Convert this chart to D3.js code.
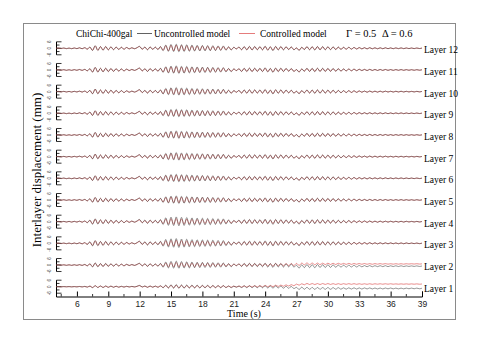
<!DOCTYPE html>
<meta charset="utf-8">
<html>
<head>
<script src="https://d3js.org/d3.v7.min.js"></script>
<style>
  body { margin: 0; background: #fff; }
  text { font-family: "Liberation Serif", "Times New Roman", serif; }
</style>
</head>
<body>
<div id="my_dataviz"></div>
<script>

// sampling of the records: one value every 0.25 s from 4 s to 39 s
var tStart = 4, tStep = 0.25;

// layers 5-12, uncontrolled model (mm)
var upperUnc = [
  0, 0.2, -0.2, 0.3,   -0.3, 0.2, -0.4, 0.3,   -0.3, 0.5, -0.4, 0.6,
  -0.8, 1.2, -2.0, 2.4,   -2.0, 1.6, -1.8, 1.7,   -1.5, 1.4, -1.3, 1.2,
  -1.1, 1.0, -0.9, 0.8,   -0.6, 0.5, -0.4, 0.6,   1.8, -0.8, 1.2, -1.4,
  1.3, -1.0, 1.1, -1.2,   1.6, -2.2, 3.0, -2.8,   3.6, -3.0, 3.8, -3.2,
  3.4, -3.0, 3.3, -2.8,   3.0, -2.6, 2.8, -2.5,   2.7, -2.4, 2.5, -2.3,
  2.4, -2.2, 2.2, -2.0,   2.2, -1.8, 1.4, -1.6,   1.0, -0.6, 1.2, -1.4,
  1.6, -1.5, 1.8, -1.6,   1.7, -1.4, 1.6, -1.5,   2.0, -1.8, 1.5, -2.2,
  1.8, -1.6, 1.7, -1.5,   1.5, -1.2, 1.3, -1.4,   0.4, -2.0, 1.0, -1.2,
  1.6, -1.4, 1.5, -1.6,   1.7, -1.5, 1.6, -1.4,   1.5, -1.3, 1.4, -1.2,
  1.2, -1.1, 1.0, -0.9,   1.0, -0.8, 0.8, -0.7,   0.7, -0.6, 0.6, -0.6,
  0.6, -0.5, 0.5, -0.5,   0.5, -0.4, 0.5, -0.4,   0.4, -0.4, 0.4, -0.3,
  0.4, -0.3, 0.3, -0.3,   0.3, -0.3, 0.3, -0.2,   0.2
];

// layers 3-12, controlled model
var upperCon = [
  0, 0.2, -0.2, 0.2,   -0.3, 0.2, -0.3, 0.3,   -0.3, 0.4, -0.4, 0.5,
  -0.7, 1.0, -1.8, 2.2,   -1.8, 1.5, -1.6, 1.5,   -1.4, 1.2, -1.2, 1.0,
  -1.0, 0.9, -0.8, 0.7,   -0.5, 0.5, -0.4, 0.5,   1.6, -0.9, 1.0, -1.2,
  1.1, -0.9, 1.0, -1.0,   1.3, -1.8, 2.4, -2.3,   2.8, -2.4, 2.9, -2.5,
  2.6, -2.3, 2.4, -2.1,   2.2, -2.0, 2.1, -1.9,   2.0, -1.8, 1.9, -1.7,
  1.8, -1.6, 1.7, -1.5,   1.6, -1.3, 1.1, -1.2,   0.8, -0.5, 1.0, -1.2,
  1.3, -1.3, 1.5, -1.4,   1.4, -1.2, 1.3, -1.3,   1.6, -1.5, 1.2, -1.8,
  1.5, -1.3, 1.4, -1.2,   1.2, -1.0, 1.1, -1.2,   0.3, -1.6, 0.8, -1.0,
  1.3, -1.2, 1.3, -1.3,   1.4, -1.2, 1.3, -1.2,   1.2, -1.1, 1.1, -1.0,
  1.0, -0.9, 0.8, -0.8,   0.8, -0.7, 0.7, -0.6,   0.6, -0.5, 0.5, -0.5,
  0.5, -0.4, 0.4, -0.4,   0.4, -0.4, 0.4, -0.3,   0.3, -0.3, 0.3, -0.3,
  0.3, -0.3, 0.3, -0.2,   0.2, -0.2, 0.2, -0.2,   0.2
];

// layers 3-4, uncontrolled model
var midUnc = [
  0, 0.2, -0.2, 0.3,   -0.3, 0.3, -0.4, 0.3,   -0.4, 0.5, -0.5, 0.7,
  -1.0, 1.5, -2.4, 2.6,   -2.2, 1.8, -2.0, 1.9,   -1.7, 1.5, -1.4, 1.3,
  -1.2, 1.1, -1.0, 0.9,   -0.7, 0.6, -0.5, 0.7,   2.0, -1.0, 1.5, -1.6,
  1.5, -1.2, 1.3, -1.4,   1.9, -2.6, 3.6, -3.4,   4.2, -3.6, 4.4, -3.8,
  4.0, -3.5, 3.8, -3.3,   3.5, -3.1, 3.3, -3.0,   3.2, -2.9, 3.0, -2.8,
  2.9, -2.6, 2.7, -2.5,   2.6, -2.2, 1.7, -1.9,   1.2, -0.8, 1.5, -1.7,
  1.9, -1.8, 2.1, -1.9,   2.0, -1.7, 1.9, -1.8,   2.3, -2.1, 1.8, -2.5,
  2.1, -1.9, 2.0, -1.8,   1.8, -1.5, 1.6, -1.7,   0.5, -2.3, 1.2, -1.5,
  1.9, -1.7, 1.8, -1.9,   1.9, -1.7, 1.8, -1.6,   1.7, -1.5, 1.6, -1.4,
  1.4, -1.3, 1.2, -1.1,   1.2, -1.0, 1.0, -0.9,   0.9, -0.8, 0.8, -0.7,
  0.7, -0.6, 0.6, -0.6,   0.6, -0.5, 0.5, -0.5,   0.5, -0.4, 0.4, -0.4,
  0.4, -0.4, 0.4, -0.3,   0.3, -0.3, 0.3, -0.3,   0.2
];

// layer 2
var layer2Unc = [
  0, 0.2, -0.2, 0.2,   -0.3, 0.2, -0.3, 0.3,   -0.3, 0.4, -0.4, 0.6,
  -0.8, 1.2, -1.8, 2.0,   -1.7, 1.4, -1.5, 1.5,   -1.3, 1.2, -1.1, 1.0,
  -1.0, 0.9, -0.8, 0.7,   -0.5, 0.5, -0.4, 0.6,   1.6, -0.8, 1.2, -1.3,
  1.2, -1.0, 1.0, -1.1,   1.5, -2.0, 2.8, -2.7,   3.4, -2.9, 3.6, -3.0,
  3.2, -2.8, 3.0, -2.7,   2.8, -2.5, 2.6, -2.4,   2.5, -2.3, 2.4, -2.2,
  2.3, -2.1, 2.1, -2.0,   2.0, -1.8, 1.3, -1.6,   0.9, -0.7, 1.1, -1.4,
  1.5, -1.5, 1.6, -1.6,   1.5, -1.5, 1.4, -1.6,   1.7, -1.9, 1.3, -2.2,
  1.6, -1.8, 1.4, -1.9,   1.1, -1.7, 0.9, -1.9,   -0.2, -2.8, 0.2, -2.4,
  0.5, -2.4, 0.4, -2.5,   0.5, -2.3, 0.3, -2.3,   0.3, -2.2, 0.2, -2.1,
  0.0, -2.0, -0.1, -1.9,   -0.2, -1.8, -0.3, -1.8,   -0.4, -1.7, -0.5, -1.6,
  -0.5, -1.6, -0.6, -1.5,   -0.6, -1.5, -0.6, -1.5,   -0.7, -1.4, -0.7, -1.4,
  -0.7, -1.4, -0.8, -1.3,   -0.8, -1.3, -0.8, -1.3,   -0.9
];
var layer2Con = [
  0, 0.1, -0.1, 0.2,   -0.2, 0.2, -0.3, 0.2,   -0.3, 0.3, -0.3, 0.4,
  -0.6, 0.9, -1.4, 1.6,   -1.3, 1.1, -1.2, 1.1,   -1.0, 0.9, -0.9, 0.8,
  -0.8, 0.7, -0.6, 0.6,   -0.4, 0.4, -0.3, 0.5,   1.3, -0.7, 0.9, -1.0,
  0.9, -0.8, 0.8, -0.8,   1.1, -1.4, 1.9, -1.8,   2.2, -1.8, 2.3, -1.9,
  2.1, -1.8, 1.9, -1.7,   1.8, -1.6, 1.7, -1.5,   1.6, -1.4, 1.5, -1.4,
  1.5, -1.3, 1.4, -1.2,   1.3, -1.1, 0.9, -1.0,   0.7, -0.4, 0.9, -0.9,
  1.1, -1.0, 1.2, -1.0,   1.2, -0.9, 1.1, -0.9,   1.3, -1.0, 1.1, -1.2,
  1.4, -0.9, 1.3, -0.8,   1.4, -0.6, 1.4, -0.5,   1.5, -0.4, 1.8, 0.2,
  1.9, 0.3, 1.8, 0.3,   1.8, 0.4, 1.7, 0.4,   1.7, 0.5, 1.6, 0.5,
  1.6, 0.6, 1.5, 0.6,   1.5, 0.6, 1.4, 0.7,   1.4, 0.7, 1.4, 0.7,
  1.3, 0.7, 1.3, 0.8,   1.3, 0.8, 1.3, 0.8,   1.2, 0.8, 1.2, 0.8,
  1.2, 0.8, 1.2, 0.9,   1.2, 0.9, 1.2, 0.9,   1.1
];

// layer 1
var layer1Unc = [
  0, 0.1, -0.1, 0.1,   -0.1, 0.1, -0.2, 0.1,   -0.2, 0.2, -0.2, 0.3,
  -0.4, 0.6, -0.9, 1.0,   -0.8, 0.7, -0.8, 0.7,   -0.6, 0.6, -0.6, 0.5,
  -0.5, 0.4, -0.4, 0.4,   -0.3, 0.3, -0.2, 0.4,   1.2, -0.3, 0.7, -0.6,
  0.7, -0.5, 0.6, -0.6,   0.9, -1.0, 1.5, -1.3,   1.8, -1.4, 2.0, -1.5,
  1.7, -1.4, 1.6, -1.3,   1.5, -1.2, 1.4, -1.2,   1.3, -1.1, 1.3, -1.1,
  1.2, -1.0, 1.1, -1.0,   1.1, -0.9, 0.7, -0.9,   0.5, -0.5, 0.6, -0.8,
  0.8, -0.9, 0.9, -0.9,   0.8, -0.9, 0.8, -1.0,   0.9, -1.2, 0.7, -1.4,
  0.8, -1.2, 0.6, -1.4,   0.4, -1.5, 0.2, -1.7,   -0.6, -2.6, -0.4, -2.4,
  -0.6, -2.4, -0.7, -2.5,   -0.7, -2.4, -0.8, -2.4,   -0.8, -2.4, -0.9, -2.3,
  -0.9, -2.3, -1.0, -2.3,   -1.0, -2.2, -1.0, -2.2,   -1.1, -2.2, -1.1, -2.1,
  -1.1, -2.1, -1.2, -2.1,   -1.2, -2.1, -1.2, -2.0,   -1.2, -2.0, -1.3, -2.0,
  -1.3, -2.0, -1.3, -1.9,   -1.3, -1.9, -1.3, -1.9,   -1.4
];
var layer1Con = [
  0, 0.1, -0.1, 0.1,   -0.1, 0.1, -0.1, 0.1,   -0.1, 0.2, -0.2, 0.2,
  -0.3, 0.5, -0.7, 0.8,   -0.6, 0.6, -0.6, 0.5,   -0.5, 0.5, -0.4, 0.4,
  -0.4, 0.3, -0.3, 0.3,   -0.2, 0.2, -0.2, 0.3,   1.0, -0.3, 0.5, -0.5,
  0.5, -0.4, 0.5, -0.4,   0.6, -0.7, 1.0, -0.9,   1.2, -0.9, 1.3, -1.0,
  1.1, -0.9, 1.0, -0.9,   1.0, -0.8, 0.9, -0.8,   0.9, -0.7, 0.9, -0.7,
  0.8, -0.7, 0.8, -0.6,   0.8, -0.6, 0.5, -0.5,   0.5, -0.3, 0.6, -0.4,
  0.7, -0.4, 0.8, -0.3,   0.9, -0.3, 1.0, -0.2,   1.2, -0.1, 1.2, 0.0,
  1.4, 0.2, 1.5, 0.4,   1.7, 0.6, 1.9, 0.9,   2.4, 1.4, 2.7, 1.8,
  3.0, 2.0, 2.9, 2.0,   2.9, 2.0, 2.9, 2.1,   2.9, 2.1, 2.8, 2.1,
  2.8, 2.1, 2.8, 2.2,   2.8, 2.2, 2.8, 2.2,   2.7, 2.2, 2.7, 2.2,
  2.7, 2.2, 2.7, 2.3,   2.7, 2.3, 2.7, 2.3,   2.7, 2.3, 2.6, 2.3,
  2.6, 2.3, 2.6, 2.3,   2.6, 2.3, 2.6, 2.3,   2.5
];

// which record goes on which layer (layer 1 at the bottom)
var layers = [1, 2, 3, 4, 5, 6, 7, 8, 9, 10, 11, 12];
var uncByLayer = [layer1Unc, layer2Unc, midUnc, midUnc, upperUnc, upperUnc,
                  upperUnc, upperUnc, upperUnc, upperUnc, upperUnc, upperUnc];
var conByLayer = [layer1Con, layer2Con, upperCon, upperCon, upperCon, upperCon,
                  upperCon, upperCon, upperCon, upperCon, upperCon, upperCon];

var timeTicks = [6, 9, 12, 15, 18, 21, 24, 27, 30, 33, 36, 39];
var dispTicks = [-6, -3, 0, 3, 6];

var width = 480, height = 345;
var redLine = "#de5a5a", blackLine = "#3a3a3a";

var svg = d3.select("#my_dataviz")
  .append("svg")
    .attr("width", width)
    .attr("height", height);

// outer frame
svg.append("rect")
  .attr("x", 23.5).attr("y", 23.5)
  .attr("width", 432).attr("height", 296)
  .attr("fill", "none")
  .attr("stroke", "#8a8a8a")
  .attr("stroke-width", 1);

// time scale
var x = d3.scaleLinear().domain([4, 39]).range([56, 422]);

// one band per layer
var band = d3.scaleLinear().domain([1, 12]).range([286.7, 48.3]);

var line = d3.line()
  .x(function(d, i) { return x(tStart + i * tStep); })
  .curve(d3.curveCardinal);

layers.forEach(function(k, idx) {
  var c = band(k);
  var y = d3.scaleLinear().domain([-10, 10]).range([c + 10.83, c - 10.83]);
  line.y(function(d) { return y(d); });

  var g = svg.append("g");

  // per-layer y axis ticks
  g.append("line")
    .attr("x1", 56.5).attr("x2", 56.5)
    .attr("y1", y(-6)).attr("y2", y(6))
    .attr("stroke", "#000").attr("stroke-width", 1);
  g.selectAll(".tk")
    .data(dispTicks)
    .enter().append("line")
      .attr("x1", 56.5)
      .attr("x2", function(d) { return d % 6 === 0 ? 61.5 : 59.5; })
      .attr("y1", function(d) { return y(d); })
      .attr("y2", function(d) { return y(d); })
      .attr("stroke", "#000").attr("stroke-width", 0.8);
  g.selectAll(".tl")
    .data([-6, 0, 6])
    .enter().append("text")
      .attr("transform", function(d) { return "translate(51," + y(d) + ") rotate(-90)"; })
      .attr("text-anchor", "middle")
      .style("font-family", "Liberation Sans, Arial, sans-serif")
      .style("font-size", "4.5px")
      .attr("fill", "#333")
      .text(function(d) { return d; });

  // controlled (red) under, uncontrolled (black) over
  g.append("path")
    .datum(conByLayer[idx])
    .attr("d", line)
    .attr("fill", "none")
    .attr("stroke", redLine)
    .attr("stroke-width", 0.7);
  g.append("path")
    .datum(uncByLayer[idx])
    .attr("d", line)
    .attr("fill", "none")
    .attr("stroke", blackLine)
    .attr("stroke-width", 0.55);

  g.append("text")
    .attr("x", 424)
    .attr("y", c + 5)
    .style("font-size", "9.5px")
    .text("Layer " + k);
});

// time axis
var xAxis = svg.append("g")
  .attr("transform", "translate(0,296.5)")
  .call(d3.axisBottom(x).tickValues(timeTicks).tickSize(-5).tickPadding(4));
xAxis.select(".domain").attr("stroke", "#000");
xAxis.selectAll("text")
  .style("font-family", "Liberation Sans, Arial, sans-serif")
  .style("font-size", "8.5px")
  .attr("fill", "#222");
// minor ticks
svg.append("g")
  .selectAll("line")
  .data(d3.range(4.5, 39, 1.5).filter(function(v) { return timeTicks.indexOf(v) < 0; }))
  .enter().append("line")
    .attr("x1", function(d) { return x(d); })
    .attr("x2", function(d) { return x(d); })
    .attr("y1", 296.5).attr("y2", 294)
    .attr("stroke", "#000").attr("stroke-width", 0.8);

svg.append("text")
  .attr("x", 244).attr("y", 316.5)
  .attr("text-anchor", "middle")
  .style("font-size", "10px")
  .text("Time (s)");

svg.append("text")
  .attr("transform", "translate(41,170) rotate(-90)")
  .attr("text-anchor", "middle")
  .style("font-size", "13px")
  .text("Interlayer displacement (mm)");

// legend
var leg = svg.append("g");
leg.append("text").attr("x", 76).attr("y", 36.5).style("font-size", "9.5px").text("ChiChi-400gal");
leg.append("line").attr("x1", 137).attr("x2", 152).attr("y1", 33.5).attr("y2", 33.5)
  .attr("stroke", blackLine).attr("stroke-width", 0.8);
leg.append("text").attr("x", 154).attr("y", 36.5).style("font-size", "9.5px").text("Uncontrolled model");
leg.append("line").attr("x1", 239).attr("x2", 255).attr("y1", 33.5).attr("y2", 33.5)
  .attr("stroke", redLine).attr("stroke-width", 0.8);
leg.append("text").attr("x", 260).attr("y", 36.5).style("font-size", "9.5px").text("Controlled model");
leg.append("text").attr("x", 346).attr("y", 37).style("font-size", "10.5px").text("Γ = 0.5");
leg.append("text").attr("x", 382).attr("y", 37).style("font-size", "10.5px").text("Δ = 0.6");

</script>
</body>
</html>
